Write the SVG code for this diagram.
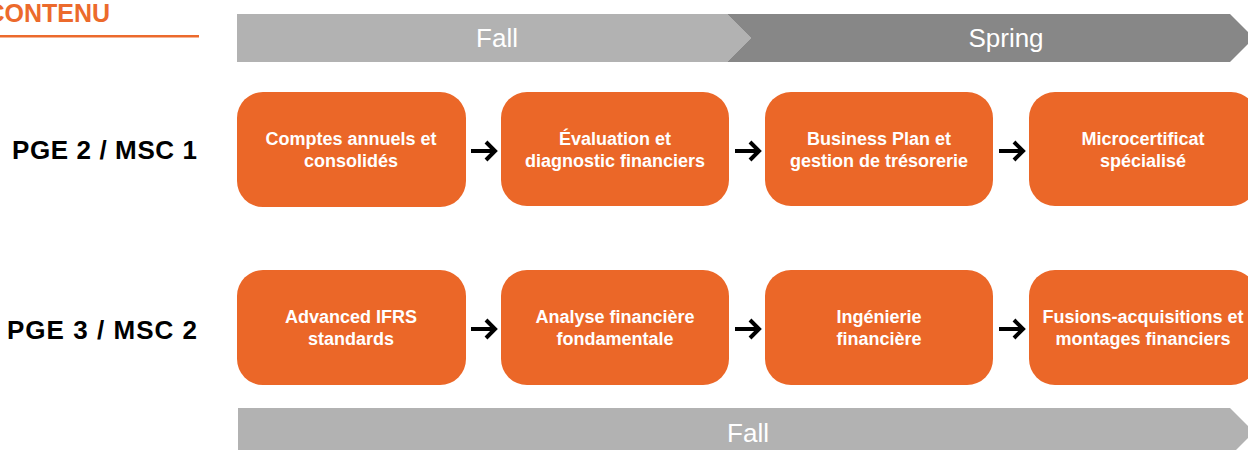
<svg xmlns="http://www.w3.org/2000/svg" width="1248" height="450" viewBox="0 0 1248 450">
<style>
.box{fill:#EB6728}
.bt{font-family:"Liberation Sans",Arial,sans-serif;font-weight:bold;font-size:18px;fill:#fff;text-anchor:middle}
.row{font-family:"Liberation Sans",Arial,sans-serif;font-weight:bold;font-size:26px;fill:#000;text-anchor:end}
.band{font-family:"Liberation Sans",Arial,sans-serif;font-size:26px;fill:#fff;text-anchor:middle}
.arr{fill:none;stroke:#000;stroke-width:4}
</style>
<rect width="1248" height="450" fill="#fff"/>
<g id="title">
<text x="110" y="22" font-family="'Liberation Sans',Arial,sans-serif" font-weight="bold" font-size="25" fill="#EC6A2C" text-anchor="end">CONTENU</text>
<rect x="0" y="35" width="199" height="2.5" fill="#EC6A2C"/>
</g>
<g id="band-fall-top">
<polygon points="237,14 727,14 751,38 727,62 237,62" fill="#B2B2B2"/>
<text class="band" x="497" y="47">Fall</text>
</g>
<g id="band-spring">
<polygon points="727,14 1230,14 1254,38 1230,62 727,62 751,38" fill="#878787"/>
<text class="band" x="1006" y="47">Spring</text>
</g>
<g id="band-fall-bottom">
<polygon points="238,408 1230,408 1254,432 1230,456 238,456" fill="#B2B2B2"/>
<text class="band" x="748" y="442">Fall</text>
</g>
<g id="label-row1"><text class="row" x="197" y="159" textLength="185" lengthAdjust="spacing">PGE 2 / MSC 1</text></g>
<g id="label-row2"><text class="row" x="197" y="339" textLength="190" lengthAdjust="spacing">PGE 3 / MSC 2</text></g>
<g id="n1"><rect class="box" x="237" y="92" width="229" height="115" rx="26"/><text class="bt" x="351" y="145">Comptes annuels et</text><text class="bt" x="351" y="167">consolidés</text></g>
<g id="n2"><rect class="box" x="501" y="92" width="228" height="114" rx="26"/><text class="bt" x="615" y="145">Évaluation et</text><text class="bt" x="615" y="167">diagnostic financiers</text></g>
<g id="n3"><rect class="box" x="765" y="92" width="228" height="114" rx="26"/><text class="bt" x="879" y="145">Business Plan et</text><text class="bt" x="879" y="167">gestion de trésorerie</text></g>
<g id="n4"><rect class="box" x="1029" y="92" width="228" height="114" rx="26"/><text class="bt" x="1143" y="145">Microcertificat</text><text class="bt" x="1143" y="167">spécialisé</text></g>
<g id="n5"><rect class="box" x="237" y="270" width="229" height="115" rx="26"/><text class="bt" x="351" y="323">Advanced IFRS</text><text class="bt" x="351" y="345">standards</text></g>
<g id="n6"><rect class="box" x="501" y="270" width="228" height="115" rx="26"/><text class="bt" x="615" y="323">Analyse financière</text><text class="bt" x="615" y="345">fondamentale</text></g>
<g id="n7"><rect class="box" x="765" y="270" width="228" height="115" rx="26"/><text class="bt" x="879" y="323">Ingénierie</text><text class="bt" x="879" y="345">financière</text></g>
<g id="n8"><rect class="box" x="1029" y="270" width="228" height="115" rx="26"/><text class="bt" x="1143" y="323">Fusions-acquisitions et</text><text class="bt" x="1143" y="345">montages financiers</text></g>
<g id="connectors">
<path class="arr" d="M471,151H495M486,142L495,151L486,160"/>
<path class="arr" d="M735,151H759M750,142L759,151L750,160"/>
<path class="arr" d="M999,151H1023M1014,142L1023,151L1014,160"/>
<path class="arr" d="M471,329H495M486,320L495,329L486,338"/>
<path class="arr" d="M735,329H759M750,320L759,329L750,338"/>
<path class="arr" d="M999,329H1023M1014,320L1023,329L1014,338"/>
</g>
</svg>
